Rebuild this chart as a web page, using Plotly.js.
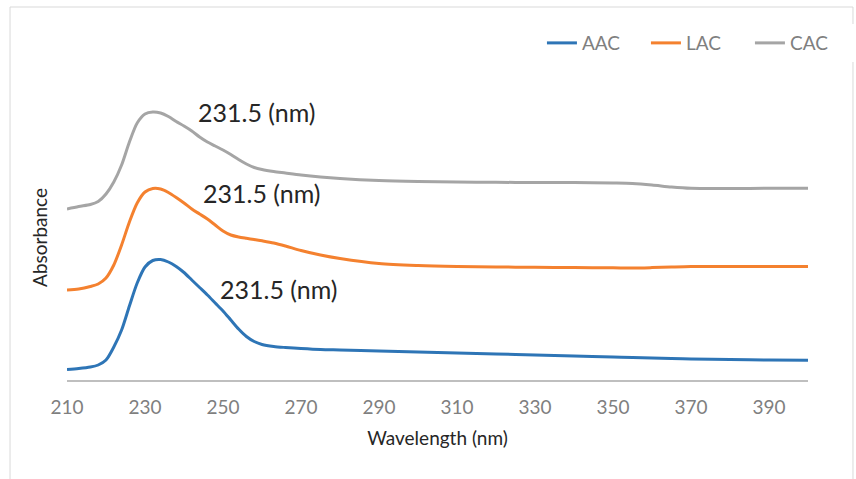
<!DOCTYPE html>
<html>
<head>
<meta charset="utf-8">
<script src="https://cdn.plot.ly/plotly-3.0.1.min.js"></script>
<style>
html,body{margin:0;padding:0;background:#fff;}
#chart{width:856px;height:479px;}
</style>
</head>
<body>
<div id="chart"></div>
<script>
const wavelength = [210,213,216,218,220,222,224,226,228,230,232,234,236,238,240,242,244,246,248,250,252,254,256,258,260,263,266,270,275,280,290,300,310,320,330,340,350,355,360,365,370,380,390,400];
const aac = [0.105,0.115,0.13,0.15,0.20,0.33,0.50,0.74,0.97,1.13,1.195,1.205,1.18,1.135,1.075,1.00,0.925,0.85,0.77,0.69,0.60,0.51,0.435,0.385,0.355,0.335,0.325,0.315,0.305,0.30,0.29,0.28,0.27,0.26,0.25,0.24,0.23,0.225,0.22,0.215,0.21,0.205,0.20,0.197];
const lac = [0.90,0.91,0.935,0.96,1.02,1.15,1.35,1.58,1.77,1.88,1.915,1.91,1.875,1.825,1.77,1.71,1.66,1.61,1.55,1.49,1.45,1.43,1.417,1.405,1.392,1.37,1.34,1.295,1.25,1.215,1.165,1.145,1.135,1.13,1.127,1.125,1.122,1.12,1.124,1.13,1.135,1.135,1.135,1.135];
const cac = [1.71,1.735,1.755,1.785,1.86,1.98,2.15,2.38,2.57,2.66,2.68,2.67,2.635,2.585,2.54,2.49,2.43,2.38,2.34,2.30,2.255,2.205,2.16,2.125,2.105,2.085,2.07,2.05,2.03,2.015,1.995,1.985,1.98,1.977,1.975,1.975,1.97,1.965,1.95,1.93,1.917,1.915,1.917,1.918];
const seriesNames = ["AAC","LAC","CAC"];
const tickValues = [210,230,250,270,290,310,330,350,370,390];
const peakLabel = "231.5 (nm)";

const colors = ["#2E75B6","#F4812F","#A5A5A5"];
const ys = [aac, lac, cac];
const traces = ys.map((y,i)=>({
  x: wavelength, y: y, name: seriesNames[i], type: "scatter", mode: "lines",
  line: {color: colors[i], width: 3, shape: "spline", smoothing: 0.8},
  hoverinfo: "skip"
}));

const font = "Lato, 'Open Sans', sans-serif";
const layout = {
  width: 856, height: 479,
  margin: {l: 67, r: 48, t: 60, b: 99, autoexpand: false},
  paper_bgcolor: "#fff", plot_bgcolor: "#fff",
  showlegend: true,
  legend: {orientation: "h", x: 1.062, xanchor: "right", y: 1.053, yanchor: "middle",
    font: {family: font, size: 19, color: "#7F7F7F"}, traceorder: "normal", itemwidth: 30,
    entrywidth: 59, entrywidthmode: "pixels", tracegroupgap: 0},
  xaxis: {range: [210, 400], tickvals: tickValues, ticktext: tickValues.map(String),
    showgrid: false, zeroline: false, showline: true, linecolor: "#BFBFBF", linewidth: 1.5,
    ticks: "", ticklabelstandoff: 10, tickfont: {family: font, size: 19, color: "#7F7F7F"},
    title: {text: "Wavelength (nm)", font: {family: font, size: 19, color: "#262626"}, standoff: 14}},
  yaxis: {range: [0, 3.2], showgrid: false, zeroline: false, showline: false, showticklabels: false, ticks: ""},
  annotations: [
    {xref: "x", yref: "y", x: 243.1, y: 2.68, xanchor: "left", yanchor: "middle", text: peakLabel, showarrow: false, font: {family: font, size: 25, color: "#262626"}},
    {xref: "x", yref: "y", x: 244.4, y: 1.87, xanchor: "left", yanchor: "middle", text: peakLabel, showarrow: false, font: {family: font, size: 25, color: "#262626"}},
    {xref: "x", yref: "y", x: 248.7, y: 0.91, xanchor: "left", yanchor: "middle", text: peakLabel, showarrow: false, font: {family: font, size: 25, color: "#262626"}},
    {xref: "paper", yref: "paper", x: -0.0364, y: 0.444, xanchor: "center", yanchor: "middle", textangle: -90, text: "Absorbance", showarrow: false, font: {family: font, size: 19, color: "#262626"}}
  ],
  shapes: [
    {type: "rect", xref: "paper", yref: "paper", x0: -0.0769, x1: 1.0607, y0: -0.4, y1: 1.1656, line: {color: "#D9D9D9", width: 1}, fillcolor: "rgba(0,0,0,0)", layer: "below"}
  ]
};
Plotly.newPlot("chart", traces, layout, {displayModeBar: false, staticPlot: true});
</script>
</body>
</html>
